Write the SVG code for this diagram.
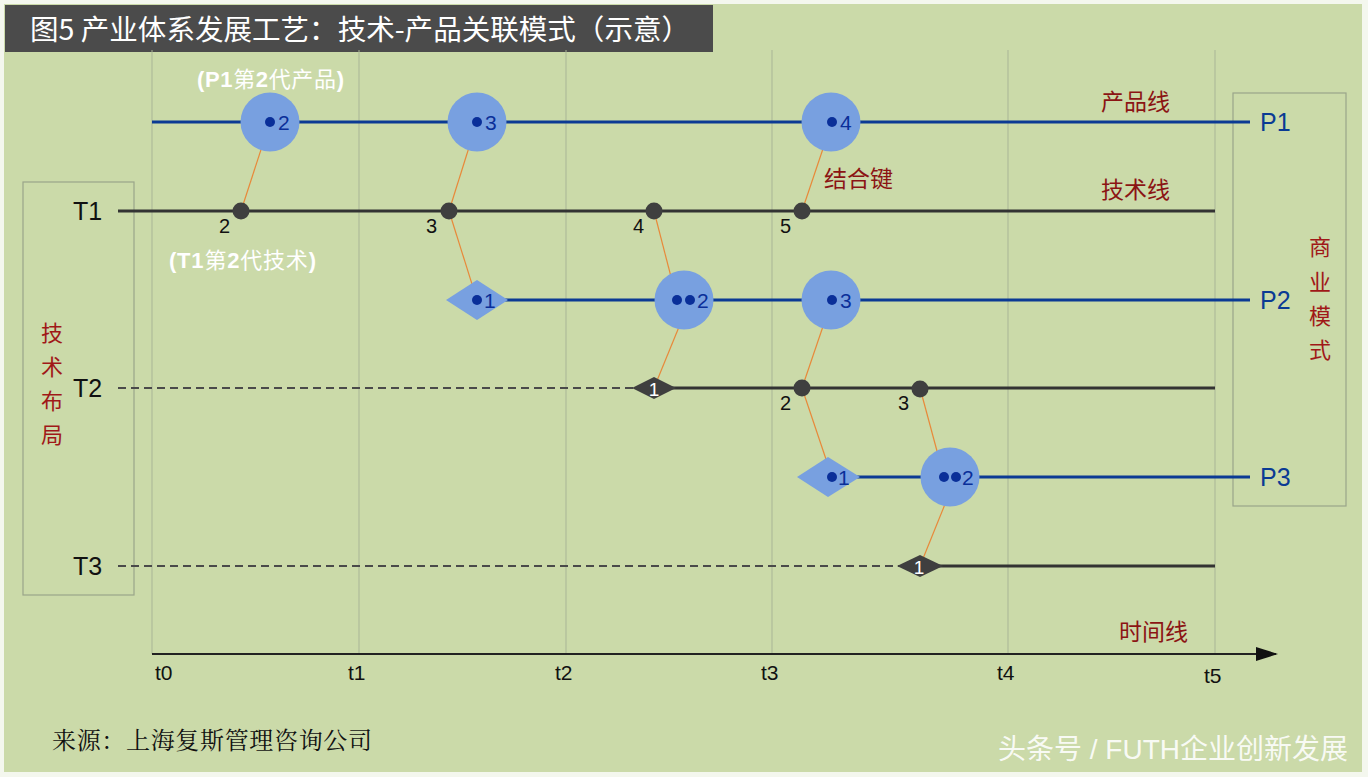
<svg xmlns="http://www.w3.org/2000/svg" width="1368" height="777" viewBox="0 0 1368 777">
<defs>
<style>
.grid{stroke:#a9b596;stroke-width:1}
.pl{stroke:#0b3a94;stroke-width:3;fill:none}
.tl{stroke:#333333;stroke-width:3;fill:none}
.dash{stroke:#4a4a4a;stroke-width:2;stroke-dasharray:8,5;fill:none}
.big{fill:#78a0e0}
.dot{fill:#0a2f99}
.tn{fill:#3f3f3f}
.link{stroke:#e8893a;stroke-width:1.2;fill:none}
.box{fill:none;stroke:#9aa58a;stroke-width:1.2}
.pn{font-family:"Liberation Sans",sans-serif;font-size:21px;fill:#0a2f99}
.tnum{font-family:"Liberation Sans",sans-serif;font-size:20px;fill:#111}
.red{font-family:"Noto Sans CJK SC",sans-serif;font-size:23px;fill:#8b1414}
.vr{font-family:"Noto Sans CJK SC",sans-serif;font-size:22px;fill:#a01818}
.big24{font-family:"Liberation Sans",sans-serif;font-size:25px}
.tick{font-family:"Liberation Sans",sans-serif;font-size:21px;fill:#111}
.wh{font-family:"Liberation Sans","Noto Sans CJK SC",sans-serif;font-size:22px;fill:#ffffff}
</style>
<marker id="arr" markerWidth="22" markerHeight="16" refX="20" refY="7" orient="auto" markerUnits="userSpaceOnUse">
<path d="M0,0 L22,7 L0,14 Z" fill="#111"/>
</marker>
</defs>
<rect x="0" y="0" width="1368" height="777" fill="#f4f7ee"/>
<rect x="4" y="4" width="1358" height="768" fill="#cbdaa9"/>
<g id="title">
<rect x="5" y="5" width="708" height="47" fill="#4b4b4b"/>
<text x="30" y="40" font-family="Noto Sans CJK SC,sans-serif" font-size="28" fill="#ffffff" textLength="660" lengthAdjust="spacingAndGlyphs">图5 产业体系发展工艺：技术-产品关联模式（示意）</text>
</g>
<g id="grid">
<line class="grid" x1="152" y1="50" x2="152" y2="654"/>
<line class="grid" x1="359" y1="50" x2="359" y2="654"/>
<line class="grid" x1="566" y1="50" x2="566" y2="654"/>
<line class="grid" x1="772" y1="50" x2="772" y2="654"/>
<line class="grid" x1="1008" y1="50" x2="1008" y2="654"/>
<line class="grid" x1="1215" y1="50" x2="1215" y2="654"/>
</g>
<g id="boxes">
<rect class="box" x="23" y="182" width="111" height="413"/>
<text class="vr" x="52" y="341" text-anchor="middle">技</text>
<text class="vr" x="52" y="375" text-anchor="middle">术</text>
<text class="vr" x="52" y="409" text-anchor="middle">布</text>
<text class="vr" x="52" y="443" text-anchor="middle">局</text>
<rect class="box" x="1233" y="93" width="113" height="413"/>
<text class="vr" x="1320" y="255" text-anchor="middle">商</text>
<text class="vr" x="1320" y="290" text-anchor="middle">业</text>
<text class="vr" x="1320" y="324" text-anchor="middle">模</text>
<text class="vr" x="1320" y="358" text-anchor="middle">式</text>
</g>
<g id="lines">
<line class="pl" x1="152" y1="122" x2="1250" y2="122"/>
<line class="tl" x1="118" y1="211" x2="1215" y2="211"/>
<line class="pl" x1="490" y1="300" x2="1250" y2="300"/>
<line class="dash" x1="118" y1="388" x2="636" y2="388"/>
<line class="tl" x1="660" y1="388" x2="1215" y2="388"/>
<line class="pl" x1="850" y1="477" x2="1250" y2="477"/>
<line class="dash" x1="118" y1="566" x2="900" y2="566"/>
<line class="tl" x1="930" y1="566" x2="1215" y2="566"/>
<line x1="152" y1="654" x2="1276" y2="654" stroke="#222" stroke-width="2" marker-end="url(#arr)"/>
</g>
<g id="line-labels">
<text class="big24" x="1260" y="131" fill="#0a3a94">P1</text>
<text class="big24" x="1260" y="309" fill="#0a3a94">P2</text>
<text class="big24" x="1260" y="486" fill="#0a3a94">P3</text>
<text class="big24" x="73" y="220" fill="#111">T1</text>
<text class="big24" x="73" y="397" fill="#111">T2</text>
<text class="big24" x="73" y="575" fill="#111">T3</text>
<text class="tick" x="155" y="680">t0</text>
<text class="tick" x="348" y="680">t1</text>
<text class="tick" x="555" y="680">t2</text>
<text class="tick" x="761" y="680">t3</text>
<text class="tick" x="997" y="680">t4</text>
<text class="tick" x="1204" y="683">t5</text>
<text class="red" x="1101" y="110">产品线</text>
<text class="red" x="1101" y="198">技术线</text>
<text class="red" x="824" y="187">结合键</text>
<text class="red" x="1119" y="640">时间线</text>
</g>
<g id="connectors">
<line class="link" x1="241" y1="211" x2="270" y2="122"/>
<line class="link" x1="449" y1="211" x2="477" y2="122"/>
<line class="link" x1="449" y1="211" x2="477" y2="300"/>
<line class="link" x1="654" y1="211" x2="677" y2="300"/>
<line class="link" x1="654" y1="388" x2="690" y2="300"/>
<line class="link" x1="802" y1="211" x2="832" y2="122"/>
<line class="link" x1="802" y1="388" x2="832" y2="300"/>
<line class="link" x1="802" y1="388" x2="832" y2="477"/>
<line class="link" x1="920" y1="388" x2="944" y2="477"/>
<line class="link" x1="920" y1="566" x2="956" y2="477"/>
</g>
<g id="p1-2"><circle class="big" cx="270" cy="122" r="29.5"/><circle class="dot" cx="270" cy="122" r="5"/><text class="pn" x="278" y="130">2</text></g>
<g id="p1-3"><circle class="big" cx="477" cy="122" r="29.5"/><circle class="dot" cx="477" cy="122" r="5"/><text class="pn" x="485" y="130">3</text></g>
<g id="p1-4"><circle class="big" cx="831" cy="122" r="29.5"/><circle class="dot" cx="832" cy="122" r="5"/><text class="pn" x="840" y="130">4</text></g>
<g id="p2-1"><polygon class="big" points="446,300 477,280 508,300 477,320"/><circle class="dot" cx="477" cy="300" r="5"/><text class="pn" x="484" y="308">1</text></g>
<g id="p2-2"><circle class="big" cx="684" cy="300" r="29.5"/><circle class="dot" cx="677" cy="300" r="5"/><circle class="dot" cx="690" cy="300" r="5"/><text class="pn" x="697" y="308">2</text></g>
<g id="p2-3"><circle class="big" cx="831" cy="300" r="29.5"/><circle class="dot" cx="832" cy="300" r="5"/><text class="pn" x="840" y="308">3</text></g>
<g id="p3-1"><polygon class="big" points="797,477 828,457 860,477 828,497"/><circle class="dot" cx="832" cy="477" r="5"/><text class="pn" x="838" y="485">1</text></g>
<g id="p3-2"><circle class="big" cx="950" cy="477" r="29.5"/><circle class="dot" cx="944" cy="477" r="5"/><circle class="dot" cx="956" cy="477" r="5"/><text class="pn" x="962" y="485">2</text></g>
<g id="t1-2"><circle class="tn" cx="241" cy="211" r="8.5"/><text class="tnum" x="219" y="233">2</text></g>
<g id="t1-3"><circle class="tn" cx="449" cy="211" r="8.5"/><text class="tnum" x="426" y="233">3</text></g>
<g id="t1-4"><circle class="tn" cx="654" cy="211" r="8.5"/><text class="tnum" x="633" y="233">4</text></g>
<g id="t1-5"><circle class="tn" cx="802" cy="211" r="8.5"/><text class="tnum" x="780" y="233">5</text></g>
<g id="t2-1"><polygon class="tn" points="632,388 654,377 676,388 654,399"/><text x="654" y="396" text-anchor="middle" font-family="Liberation Sans,sans-serif" font-size="19" fill="#ffffff">1</text></g>
<g id="t2-2"><circle class="tn" cx="802" cy="388" r="8.5"/><text class="tnum" x="780" y="410">2</text></g>
<g id="t2-3"><circle class="tn" cx="920" cy="389" r="8.5"/><text class="tnum" x="898" y="410">3</text></g>
<g id="t3-1"><polygon class="tn" points="897,566 920,555 943,566 920,577"/><text x="919" y="574" text-anchor="middle" font-family="Liberation Sans,sans-serif" font-size="19" fill="#ffffff">1</text></g>
<g id="annotations">
<text class="wh" x="197" y="87" textLength="147"><tspan font-weight="bold">(P1</tspan>第<tspan font-weight="bold">2</tspan>代产品<tspan font-weight="bold">)</tspan></text>
<text class="wh" x="169" y="268" textLength="147"><tspan font-weight="bold">(T1</tspan>第<tspan font-weight="bold">2</tspan>代技术<tspan font-weight="bold">)</tspan></text>
</g>
<g id="footer">
<text x="52" y="749" font-family="Noto Serif CJK SC,Noto Sans CJK SC,serif" font-size="24" fill="#111" textLength="320">来源：上海复斯管理咨询公司</text>
<text x="1348" y="759" text-anchor="end" font-family="Liberation Sans,Noto Sans CJK SC,sans-serif" font-size="28" fill="#ffffff" fill-opacity="0.9">头条号 / FUTH企业创新发展</text>
</g>
</svg>
